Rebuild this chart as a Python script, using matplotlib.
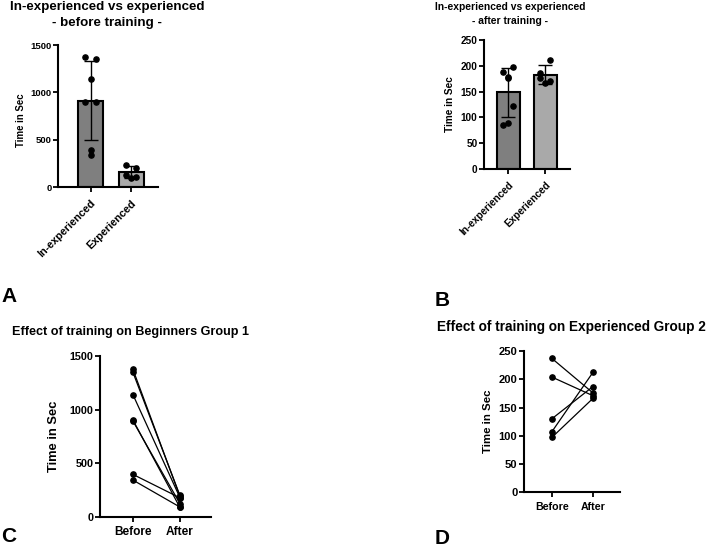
import numpy as np
import matplotlib
matplotlib.use("Agg")
import matplotlib.pyplot as plt

plt.rcParams['font.family'] = ['Liberation Sans', 'DejaVu Sans']
plt.rcParams['font.weight'] = 'bold'

# ---- data ----
groups = ["In-experienced", "Experienced"]
phases = ["Before", "After"]

# beginners (group 1), paired before / after
beginners_before = [1376, 1348, 1140, 903, 893, 395, 342]
beginners_after = [189, 198, 178, 86, 122, 176, 90]

# experienced (group 2), paired before / after
experienced_before = [237, 204, 130, 107, 97]
experienced_after = [176, 171, 187, 212, 166]

bar_colors = ["#7f7f7f", "#a9a9a9"]
jitter7 = [-0.13, 0.13, 0.0, -0.13, 0.13, 0.0, 0.0]
jitter5 = [-0.13, 0.13, -0.13, 0.13, 0.0]

W, H = 708, 547


def style_axes(ax, tsize):
    for s in ["top", "right"]:
        ax.spines[s].set_visible(False)
    for s in ["left", "bottom"]:
        ax.spines[s].set_linewidth(1.5)
    ax.tick_params(width=1.3, length=3.8, labelsize=tsize, pad=1)
    for lab in ax.get_xticklabels() + ax.get_yticklabels():
        lab.set_fontweight('bold')


def bar_panel(ax, sets, ymax, ystep, tsize, xsize, lsize):
    x = np.arange(len(sets))
    means = [np.mean(v) for v in sets]
    sds = [np.std(v, ddof=1) for v in sets]
    ax.bar(x, means, width=0.62, color=bar_colors, edgecolor="black",
           linewidth=1.5, zorder=1)
    ax.errorbar(x, means, yerr=sds, fmt="none", ecolor="black",
                elinewidth=1.0, capsize=5, capthick=1.0, zorder=2)
    for i, vals in enumerate(sets):
        jit = jitter7 if len(vals) == 7 else jitter5
        ax.scatter(x[i] + np.array(jit[:len(vals)]), vals, s=14,
                   color="black", zorder=3)
    ax.set_ylim(0, ymax)
    ax.set_yticks(np.arange(0, ymax + 1, ystep))
    ax.set_xticks(x)
    ax.set_xticklabels(groups, rotation=45, ha="right",
                       rotation_mode="anchor", fontsize=xsize)
    ax.set_ylabel("Time in Sec", fontsize=lsize, fontweight="bold")
    style_axes(ax, tsize)
    ax.tick_params(axis="x", pad=4, labelsize=xsize)
    return ax


def pair_panel(ax, before, after, ymax, ystep, tsize, xsize, lsize):
    for b, a in zip(before, after):
        ax.plot([0, 1], [b, a], color="black", lw=0.9, marker="o",
                ms=3.8, clip_on=False)
    ax.set_xticks([0, 1])
    ax.set_xticklabels(phases)
    ax.set_ylim(0, ymax)
    ax.set_yticks(np.arange(0, ymax + 1, ystep))
    ax.set_ylabel("Time in Sec", fontsize=lsize, fontweight="bold")
    style_axes(ax, tsize)
    ax.tick_params(axis="x", pad=3, labelsize=xsize)
    return ax


fig = plt.figure(figsize=(7.08, 5.47), dpi=100)

# A
axA = fig.add_axes([0.0824, 0.6581, 0.1412, 0.2596])
bar_panel(axA, [beginners_before, experienced_before], 1500, 500,
          6.8, 7.8, 6.9)
axA.set_xlim(-0.8, 1.67)
axA.yaxis.set_label_coords(-0.323, 0.47)
fig.text(107 / W, 1 - 15 / H,
         "In-experienced vs experienced\n- before training -",
         ha="center", va="center", fontsize=9.6, fontweight="bold",
         linespacing=1.42)

# B
axB = fig.add_axes([0.684, 0.691, 0.121, 0.2358])
bar_panel(axB, [beginners_after, experienced_after], 250, 50,
          7.2, 7.2, 7.2)
axB.set_xlim(-0.65, 1.67)
axB.yaxis.set_label_coords(-0.342, 0.5)
fig.text(510 / W, 1 - 14 / H,
         "In-experienced vs experienced\n- after training -",
         ha="center", va="center", fontsize=7.4, fontweight="bold",
         linespacing=1.42)

# C
axC = fig.add_axes([0.1412, 0.0554, 0.1568, 0.2938])
pair_panel(axC, beginners_before, beginners_after, 1500, 500,
           7.8, 8.6, 9.3)
axC.set_xlim(-0.70, 1.66)
axC.yaxis.set_label_coords(-0.36, 0.5)
fig.text(12 / W, 1 - 332 / H, "Effect of training on Beginners Group 1",
         ha="left", va="center", fontsize=9.1, fontweight="bold")

# D
axD = fig.add_axes([0.740, 0.100, 0.1356, 0.2583])
pair_panel(axD, experienced_before, experienced_after, 250, 50,
           8.0, 7.7, 8.2)
axD.set_xlim(-0.68, 1.66)
axD.yaxis.set_label_coords(-0.323, 0.5)
fig.text(437 / W, 1 - 327 / H, "Effect of training on Experienced Group 2",
         ha="left", va="center", fontsize=9.8, fontweight="bold")

# panel letters
for letter, px, py in [("A", 1, 297), ("B", 435, 300),
                       ("C", 1, 537), ("D", 435, 538)]:
    fig.text(px / W, 1 - py / H, letter, ha="left", va="center",
             fontsize=15, fontweight="bold")

fig.savefig("out.png", dpi=100)
